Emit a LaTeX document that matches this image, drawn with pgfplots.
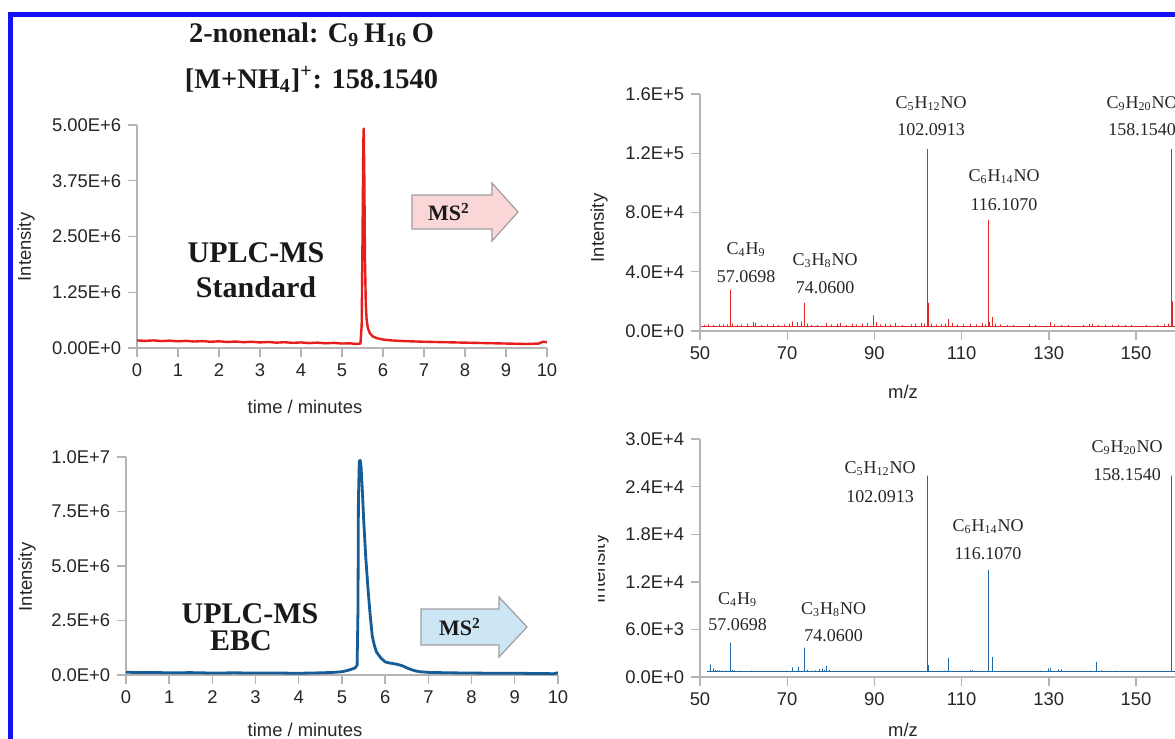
\documentclass[border=0pt]{standalone}
\usepackage{fontspec}
\setmainfont{Liberation Sans}
\newfontfamily\tnr{Liberation Serif}
\usepackage{pgfplots}
\pgfplotsset{compat=1.18}

\definecolor{frameblue}{RGB}{18,18,245}
\definecolor{cRed}{RGB}{232,30,28}
\definecolor{cBlue}{RGB}{22,92,150}
\definecolor{cRedMS}{RGB}{226,38,38}
\definecolor{cBlueMS}{RGB}{34,104,164}
\definecolor{pinkfill}{RGB}{250,214,214}
\definecolor{bluefill}{RGB}{204,230,245}
\definecolor{axgray}{RGB}{180,180,180}

\pgfplotsset{
  panel/.style={
    scale only axis, anchor=south west,
    axis x line*=bottom, axis y line*=left,
    axis line style={axgray, line width=0.7pt},
    every tick/.style={axgray, line width=0.7pt},
    tick align=outside, major tick length=4.4pt,
    tick label style={font=\fontsize{9.2}{10}\selectfont, text=black!85},
    /pgf/number format/assume math mode=true,
    scaled ticks=false, ymin=0,
  },
}
\tikzset{
  pk/.style={font=\tnr\fontsize{9}{10}\selectfont, text=black!85, inner sep=0pt},
  lab/.style={font=\fontsize{9.2}{10}\selectfont, text=black!85, inner sep=0pt},
  big/.style={font=\tnr\bfseries\fontsize{#1}{16}\selectfont, anchor=base, text=black!90},
}

\begin{document}
\begin{tikzpicture}
\useasboundingbox (0,0) rectangle (587.5pt,-369.5pt);
\clip (0,0) rectangle (587.5pt,-369.5pt);
\fill[white] (0,0) rectangle (587.5pt,-369.5pt);
\draw[frameblue, line width=2.5pt] (5.3pt,-7.3pt) rectangle (700pt,-420pt);

% chromatogram, standard
\begin{axis}[panel, at={(68.5pt,-174pt)}, width=205pt, height=111.5pt,
  xmin=0, xmax=10, ymax=5, xtick={0,1,...,10},
  ytick={0,1.25,2.5,3.75,5}, yticklabels={0.00E+0,1.25E+6,2.50E+6,3.75E+6,5.00E+6}]
\addplot[cRed, line width=1.2pt, line join=round] coordinates {
(0,0.17) (0.2,0.16) (0.4,0.17) (0.6,0.155) (0.8,0.165) (1.0,0.15) (1.2,0.16)
(1.4,0.145) (1.6,0.155) (1.8,0.14) (2.0,0.15) (2.2,0.135) (2.4,0.145) (2.6,0.13)
(2.8,0.14) (3.0,0.125) (3.2,0.135) (3.4,0.12) (3.6,0.13) (3.8,0.115) (4.0,0.125)
(4.2,0.11) (4.4,0.12) (4.6,0.105) (4.8,0.115) (5.0,0.1) (5.2,0.105) (5.35,0.09)
(5.45,0.1) (5.48,0.5) (5.5,2.4) (5.52,4.6) (5.53,4.92) (5.545,3.8) (5.56,2.0)
(5.58,1.0) (5.6,0.65) (5.63,0.45) (5.68,0.33) (5.75,0.26) (5.85,0.22) (6.0,0.19)
(6.2,0.17) (6.5,0.155) (7.0,0.14) (7.5,0.13) (8,0.12) (8.5,0.11) (9,0.1)
(9.5,0.09) (9.8,0.1) (9.9,0.14) (10,0.13)
};
\end{axis}

% MS2 spectrum, standard
\begin{axis}[panel, at={(350pt,-165.5pt)}, width=261.6pt, height=118.5pt,
  xmin=50, xmax=170, ymax=160, xtick={50,70,...,150},
  ytick={0,40,80,120,160}, yticklabels={0.0E+0,4.0E+4,8.0E+4,1.2E+5,1.6E+5}]
\addplot[cRedMS, line width=0.5pt, line join=bevel] coordinates {
(50.3,3)
(51,3)(51,4)(51,3) (52,3)(52,4.5)(52,3) (53,3)(53,4)(53,3) (54.5,3)(54.5,4.5)(54.5,3)
(55.5,3)(55.5,5)(55.5,3) (56.2,3)(56.2,4.5)(56.2,3) (57.07,3)(57.07,28)(57.07,3)
(57.4,3)(57.4,5)(57.4,3) (58.5,3)(58.5,4)(58.5,3) (59.5,3)(59.5,4.5)(59.5,3)
(61,3)(61,5)(61,3) (62.3,3)(62.3,6)(62.3,3) (62.8,3)(62.8,5.5)(62.8,3)
(64,3)(64,4)(64,3) (65.5,3)(65.5,4.5)(65.5,3) (66.8,3)(66.8,4.5)(66.8,3)
(68,3)(68,4)(68,3) (69.3,3)(69.3,4.5)(69.3,3) (70.5,3)(70.5,5)(70.5,3)
(71.3,3)(71.3,6.5)(71.3,3) (72.4,3)(72.4,6)(72.4,3) (73.2,3)(73.2,6.5)(73.2,3)
(74.06,3)(74.06,19)(74.06,3) (74.6,3)(74.6,5)(74.6,3) (75.5,3)(75.5,4)(75.5,3)
(77,3)(77,4)(77,3) (79,3)(79,5.5)(79,3) (80.2,3)(80.2,4.5)(80.2,3)
(81.5,3)(81.5,5)(81.5,3) (82.3,3)(82.3,5.5)(82.3,3) (83.5,3)(83.5,4)(83.5,3)
(85,3)(85,5)(85,3) (86,3)(86,4.5)(86,3) (87.3,3)(87.3,5)(87.3,3)
(88.5,3)(88.5,5.5)(88.5,3) (89.9,3)(89.9,10.5)(89.9,3) (90.4,3)(90.4,6)(90.4,3)
(91.5,3)(91.5,4.5)(91.5,3) (92.5,3)(92.5,5)(92.5,3) (93.8,3)(93.8,4.5)(93.8,3)
(94.8,3)(94.8,5.5)(94.8,3) (96.5,3)(96.5,4)(96.5,3) (98.5,3)(98.5,4.5)(98.5,3)
(99.5,3)(99.5,5)(99.5,3) (100.8,3)(100.8,5.5)(100.8,3) (101.6,3)(101.6,5)(101.6,3)
(102.09,3)(102.09,123)(102.09,3) (102.3,3)(102.3,19)(102.3,3) (103,3)(103,5)(103,3)
(104.2,3)(104.2,4.5)(104.2,3) (105.5,3)(105.5,5)(105.5,3) (106.3,3)(106.3,5)(106.3,3)
(107.1,3)(107.1,8)(107.1,3) (107.8,3)(107.8,5.5)(107.8,3) (109,3)(109,4.5)(109,3)
(110.5,3)(110.5,4.5)(110.5,3) (112,3)(112,5)(112,3) (113.5,3)(113.5,4.5)(113.5,3)
(114.8,3)(114.8,5.5)(114.8,3) (115.5,3)(115.5,4.5)(115.5,3) (116.1,3)(116.1,75)(116.1,3)
(116.4,3)(116.4,6)(116.4,3) (117.1,3)(117.1,9.5)(117.1,3) (117.8,3)(117.8,5)(117.8,3)
(119,3)(119,4.5)(119,3) (120.5,3)(120.5,4)(120.5,3) (122,3)(122,4)(122,3)
(125.5,3)(125.5,4.5)(125.5,3) (127,3)(127,4)(127,3) (130.4,3)(130.4,6)(130.4,3)
(131.2,3)(131.2,4.5)(131.2,3) (133,3)(133,4)(133,3) (134.5,3)(134.5,4)(134.5,3)
(138,3)(138,4)(138,3) (139.3,3)(139.3,4.8)(139.3,3) (140,3)(140,5)(140,3)
(141.5,3)(141.5,4)(141.5,3) (143,3)(143,4.3)(143,3) (144.5,3)(144.5,4.2)(144.5,3)
(146,3)(146,4.3)(146,3) (147.5,3)(147.5,4)(147.5,3) (149,3)(149,4)(149,3)
(152.5,3)(152.5,4)(152.5,3) (155,3)(155,4)(155,3) (156.5,3)(156.5,4.5)(156.5,3)
(157.5,3)(157.5,5)(157.5,3) (158.15,3)(158.15,123)(158.15,3) (158.3,3)(158.3,20)(158.3,3)
(159,3)(159,5)(159,3) (170,3)
};
\end{axis}

% chromatogram, EBC
\begin{axis}[panel, at={(63pt,-337.5pt)}, width=216pt, height=109pt,
  xmin=0, xmax=10, ymax=10, xtick={0,1,...,10},
  ytick={0,2.5,5,7.5,10}, yticklabels={0.0E+0,2.5E+6,5.0E+6,7.5E+6,1.0E+7}]
\addplot[cBlue, line width=1.4pt, line join=round] coordinates {
(0,0.13) (0.3,0.11) (0.6,0.12) (1,0.1) (1.5,0.11) (2,0.09) (2.5,0.1) (3,0.09)
(3.5,0.09) (4,0.08) (4.5,0.1) (4.8,0.12) (5.0,0.15) (5.15,0.22) (5.3,0.32)
(5.35,0.45) (5.37,3.0) (5.38,8.0) (5.4,9.8) (5.42,9.85) (5.44,9.6) (5.47,8.5)
(5.5,7.2) (5.55,5.4) (5.6,4.0) (5.65,2.8) (5.7,1.8) (5.75,1.35) (5.8,1.05)
(5.9,0.78) (6.0,0.6) (6.1,0.55) (6.2,0.52) (6.3,0.48) (6.4,0.42) (6.5,0.33)
(6.6,0.25) (6.7,0.19) (6.8,0.15) (7.0,0.12) (7.5,0.1) (8,0.09) (8.5,0.08)
(9,0.08) (9.5,0.07) (9.9,0.06) (10,0.1)
};
\end{axis}

% MS2 spectrum, EBC
\begin{axis}[panel, at={(350pt,-338.5pt)}, width=261.6pt, height=119pt,
  xmin=50, xmax=170, ymax=30, xtick={50,70,...,150},
  ytick={0,6,12,18,24,30}, yticklabels={0.0E+0,6.0E+3,1.2E+4,1.8E+4,2.4E+4,3.0E+4}]
\addplot[cBlueMS, line width=0.5pt, line join=bevel] coordinates {
(51.5,0.65)
(52.5,0.65)(52.5,1.6)(52.5,0.65) (53,0.65)(53,1.1)(53,0.65) (53.5,0.65)(53.5,0.9)(53.5,0.65)
(54,0.65)(54,0.85)(54,0.65) (54.5,0.65)(54.5,0.85)(54.5,0.65) (55.2,0.65)(55.2,0.8)(55.2,0.65)
(56,0.65)(56,0.8)(56,0.65) (57.07,0.65)(57.07,4.3)(57.07,0.65) (57.4,0.65)(57.4,0.9)(57.4,0.65)
(58,0.65)(58,0.85)(58,0.65) (59,0.65)(59,0.8)(59,0.65) (60,0.65)(60,0.75)(60,0.65)
(61.8,0.65)(61.8,0.8)(61.8,0.65) (65.8,0.65)(65.8,0.75)(65.8,0.65) (66.3,0.65)(66.3,0.75)(66.3,0.65)
(69,0.65)(69,0.75)(69,0.65) (69.8,0.65)(69.8,0.8)(69.8,0.65) (71.2,0.65)(71.2,1.2)(71.2,0.65)
(72.6,0.65)(72.6,1.3)(72.6,0.65) (74.06,0.65)(74.06,3.7)(74.06,0.65) (74.6,0.65)(74.6,0.9)(74.6,0.65)
(75.5,0.65)(75.5,0.8)(75.5,0.65) (76.6,0.65)(76.6,0.85)(76.6,0.65) (77.5,0.65)(77.5,1.0)(77.5,0.65)
(78,0.65)(78,1.1)(78,0.65) (78.6,0.65)(78.6,0.9)(78.6,0.65) (79.1,0.65)(79.1,1.4)(79.1,0.65)
(79.6,0.65)(79.6,0.9)(79.6,0.65) (83,0.65)(83,0.75)(83,0.65) (86.5,0.65)(86.5,0.75)(86.5,0.65)
(87.6,0.65)(87.6,0.75)(87.6,0.65) (93.5,0.65)(93.5,0.7)(93.5,0.65) (95.5,0.65)(95.5,0.75)(95.5,0.65)
(96.8,0.65)(96.8,0.75)(96.8,0.65) (98,0.65)(98,0.75)(98,0.65) (99.5,0.65)(99.5,0.75)(99.5,0.65)
(102.09,0.65)(102.09,25.4)(102.09,0.65) (102.25,0.65)(102.25,3.1)(102.25,0.65) (102.5,0.65)(102.5,1.5)(102.5,0.65)
(106,0.65)(106,0.8)(106,0.65) (107.1,0.65)(107.1,2.4)(107.1,0.65) (112,0.65)(112,0.9)(112,0.65)
(112.4,0.65)(112.4,0.85)(112.4,0.65) (115,0.65)(115,0.75)(115,0.65) (116.1,0.65)(116.1,13.5)(116.1,0.65)
(117.1,0.65)(117.1,2.5)(117.1,0.65) (120,0.65)(120,0.75)(120,0.65) (124,0.65)(124,0.75)(124,0.65)
(128,0.65)(128,0.8)(128,0.65) (130,0.65)(130,1.1)(130,0.65) (130.5,0.65)(130.5,1.2)(130.5,0.65)
(132.3,0.65)(132.3,0.95)(132.3,0.65) (133,0.65)(133,0.95)(133,0.65) (134,0.65)(134,0.75)(134,0.65)
(139.5,0.65)(139.5,0.8)(139.5,0.65) (141,0.65)(141,1.9)(141,0.65) (142,0.65)(142,0.85)(142,0.65)
(145.5,0.65)(145.5,0.8)(145.5,0.65) (146,0.65)(146,0.75)(146,0.65) (148,0.65)(148,0.75)(148,0.65)
(158.15,0.65)(158.15,25.4)(158.15,0.65) (158.25,0.65)(158.25,3.4)(158.25,0.65) (170,0.65)
};
\end{axis}

\begin{scope}[x=0.5pt, y=-0.5pt]
% titles
\node[big=14.2] at (311.5,42) {2-nonenal: C\textsubscript{9}\,H\textsubscript{16}\,O};
\node[big=14.2] at (311.5,88) {[M+NH\textsubscript{4}]\textsuperscript{+}: 158.1540};
\node[big=15] at (256,262) {UPLC-MS};
\node[big=15] at (256,297) {Standard};
\node[big=15] at (250,623) {UPLC-MS};
\node[big=15] at (241,650) {EBC};
% arrows
\draw[gray!75, fill=pinkfill, line width=0.6pt] (412,195) -- (492,195) -- (492,183) -- (518,212) -- (492,241) -- (492,229) -- (412,229) -- cycle;
\node[font=\tnr\bfseries\fontsize{11}{12}\selectfont, text=black!90] at (449,212) {MS\textsuperscript{2}};
\draw[gray!75, fill=bluefill, line width=0.6pt] (421,609) -- (499,609) -- (499,597) -- (527,627) -- (499,657) -- (499,645) -- (421,645) -- cycle;
\node[font=\tnr\bfseries\fontsize{11}{12}\selectfont, text=black!90] at (460,627) {MS\textsuperscript{2}};
% axis labels
\node[lab, rotate=90] at (26,247) {Intensity};
\node[lab, rotate=90] at (27,577) {Intensity};
\node[lab, rotate=90] at (599,228) {Intensity};
\begin{scope}
\clip (598.5,500) rectangle (640,640);
\node[lab, rotate=90] at (600,569) {Intensity};
\end{scope}
\node[lab] at (305,407) {time / minutes};
\node[lab] at (305,730) {time / minutes};
\node[lab] at (903,392) {m/z};
\node[lab] at (903,730) {m/z};
% peak labels, standard
\node[pk] at (931,103.5) {C\textsubscript{5}H\textsubscript{12}NO};
\node[pk] at (931,130) {102.0913};
\node[pk] at (1142,103.5) {C\textsubscript{9}H\textsubscript{20}NO};
\node[pk] at (1142,130) {158.1540};
\node[pk] at (1004,177) {C\textsubscript{6}H\textsubscript{14}NO};
\node[pk] at (1004,205) {116.1070};
\node[pk] at (746,249.5) {C\textsubscript{4}H\textsubscript{9}};
\node[pk] at (746,277) {57.0698};
\node[pk] at (825,261) {C\textsubscript{3}H\textsubscript{8}NO};
\node[pk] at (825,288) {74.0600};
% peak labels, EBC
\node[pk] at (880,469) {C\textsubscript{5}H\textsubscript{12}NO};
\node[pk] at (880,496.5) {102.0913};
\node[pk] at (1127,447.5) {C\textsubscript{9}H\textsubscript{20}NO};
\node[pk] at (1127,475) {158.1540};
\node[pk] at (988,527) {C\textsubscript{6}H\textsubscript{14}NO};
\node[pk] at (988,553.5) {116.1070};
\node[pk] at (737.5,599.5) {C\textsubscript{4}H\textsubscript{9}};
\node[pk] at (737.5,625) {57.0698};
\node[pk] at (833.5,609.6) {C\textsubscript{3}H\textsubscript{8}NO};
\node[pk] at (833.5,636) {74.0600};
\end{scope}
\end{tikzpicture}
\end{document}
